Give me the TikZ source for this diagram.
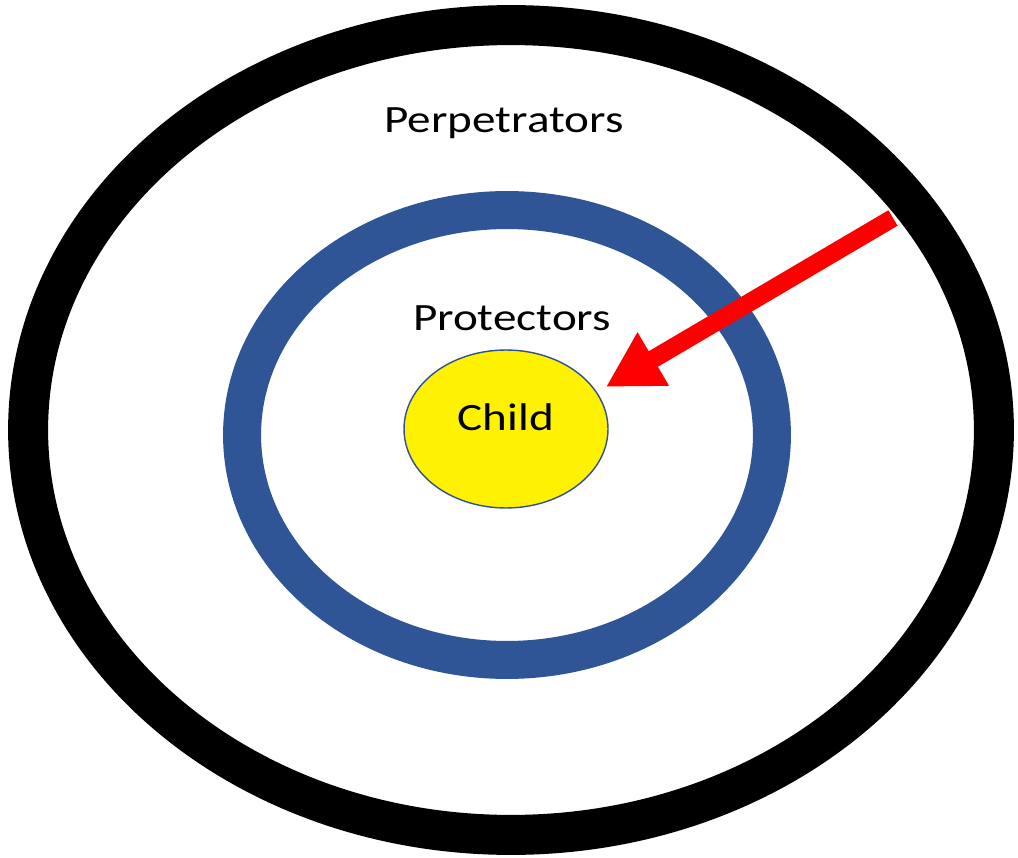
\documentclass[tikz,border=0pt]{standalone}
\usepackage{fontspec}
\setmainfont{Carlito}[FakeStretch=1.22]
\usetikzlibrary{arrows.meta,shapes.geometric}

\definecolor{ringblue}{RGB}{47,85,151}
\definecolor{edgeblue}{RGB}{47,82,143}

\begin{document}
\begin{tikzpicture}[
  x=0.02cm, y=-0.02cm,
  font=\fontsize{22}{26}\selectfont,
  ring/.style={ellipse, inner sep=0pt, outer sep=0pt},
  lbl/.style={inner sep=0pt, anchor=base, text=black},
  arr/.style={-{Triangle[length=1.1cm, width=1.16cm]}, line width=0.36cm, red, shorten >=0.22cm}
]
\useasboundingbox[fill=white] (0,0) rectangle (1018,858);
% outer ring and inner ring
\node[ring, draw=black, line width=0.8cm, minimum width=19.32cm, minimum height=16.2cm] (perp) at (511,430) {};
\node[ring, draw=ringblue, line width=0.76cm, minimum width=10.6cm, minimum height=9.0cm] (prot) at (507,435) {};
\node[ring, draw=edgeblue, line width=0.8pt, fill=yellow, minimum width=4.08cm, minimum height=3.16cm, text depth=0.46cm] (child) at (506,429) {Child};
% labels
\node[lbl] (perplbl) at (504,133) {Perpetrators};
\node[lbl] (protlbl) at (512,331) {Protectors};
% arrow
\coordinate (tail) at (893,218);
\draw[arr] (tail) -- (child.22);
\end{tikzpicture}
\end{document}
